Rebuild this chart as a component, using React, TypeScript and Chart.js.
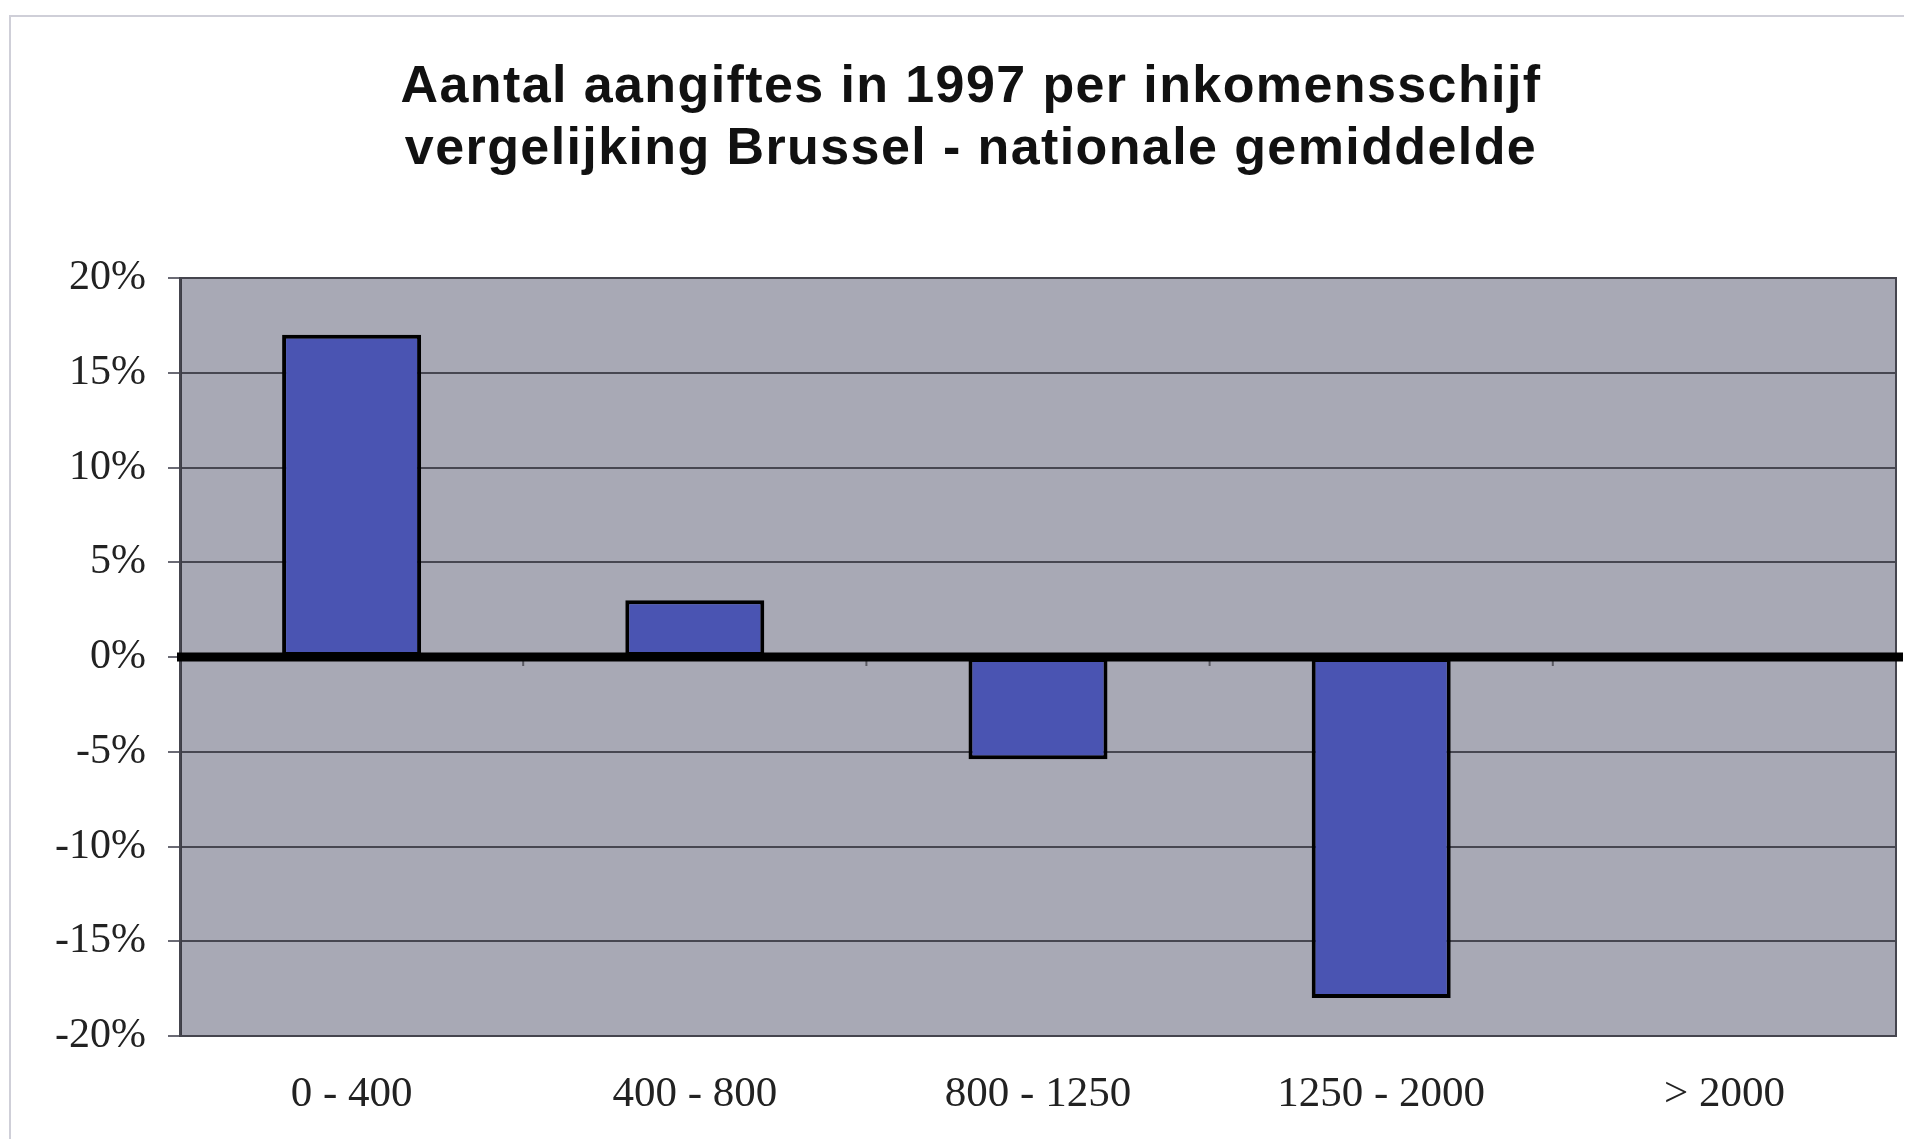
import React, { useEffect, useRef } from "react";
import { Chart, registerables } from "chart.js";

Chart.register(...registerables);

const titleLines = [
  "Aantal aangiftes in 1997 per inkomensschijf",
  "vergelijking Brussel - nationale gemiddelde",
];
const categories = ["0 - 400", "400 - 800", "800 - 1250", "1250 - 2000", "> 2000"];
const values: (number | null)[] = [17, 3, -5.4, -18, null];
const yMin = -20;
const yMax = 20;
const yStep = 5;

const decorPlugin = {
  id: "decor",
  beforeDraw(chart: any) {
    const { ctx, chartArea: a, width, height } = chart;
    ctx.save();
    ctx.fillStyle = "#ffffff";
    ctx.fillRect(0, 0, width, height);
    // outer frame (top + left)
    ctx.strokeStyle = "#cfcfd8";
    ctx.lineWidth = 2;
    ctx.beginPath();
    ctx.moveTo(2, height);
    ctx.lineTo(2, 8);
    ctx.lineTo(width, 8);
    ctx.stroke();
    // plot background
    ctx.fillStyle = "#a8a9b5";
    ctx.fillRect(a.left, a.top, a.right - a.left, a.bottom - a.top);
    // title
    ctx.fillStyle = "#111111";
    ctx.font = 'bold 52px "Liberation Sans", Arial, sans-serif';
    ctx.textAlign = "center";
    ctx.textBaseline = "alphabetic";
    (ctx as any).letterSpacing = "1.4px";
    const cx = 963;
    ctx.fillText(titleLines[0], cx, 94);
    ctx.fillText(titleLines[1], cx, 156);
    ctx.restore();
  },
  afterDatasetsDraw(chart: any) {
    const { ctx, chartArea: a, scales } = chart;
    const y0 = scales.y.getPixelForValue(0);
    ctx.save();
    ctx.strokeStyle = "#45454e";
    ctx.lineWidth = 2;
    ctx.strokeRect(a.left, a.top, a.right - a.left, a.bottom - a.top);
    // category boundary ticks on the zero axis
    ctx.strokeStyle = "#5a5a62";
    ctx.lineWidth = 2;
    for (let i = 0; i < categories.length - 1; i++) {
      const x = (scales.x.getPixelForValue(i) + scales.x.getPixelForValue(i + 1)) / 2;
      ctx.beginPath();
      ctx.moveTo(x, y0);
      ctx.lineTo(x, y0 + 9);
      ctx.stroke();
    }
    // thick zero line
    ctx.strokeStyle = "#000000";
    ctx.lineWidth = 9;
    ctx.beginPath();
    ctx.moveTo(a.left - 3, y0);
    ctx.lineTo(a.right + 7, y0);
    ctx.stroke();
    ctx.restore();
  },
};

export default function App() {
  const ref = useRef<HTMLCanvasElement | null>(null);

  useEffect(() => {
    if (!ref.current) return;
    const chart = new Chart(ref.current, {
      type: "bar",
      data: {
        labels: categories,
        datasets: [
          {
            data: values as any,
            backgroundColor: "#4a54b2",
            borderColor: "#000000",
            borderWidth: 4,
            borderSkipped: false,
            barPercentage: 0.405,
            categoryPercentage: 1.0,
          },
        ],
      },
      options: {
        animation: false,
        responsive: false,
        devicePixelRatio: 1,
        layout: { padding: { top: 270, left: 0, right: 8, bottom: 0 } },
        plugins: {
          legend: { display: false },
          title: { display: false },
          tooltip: { enabled: false },
        },
        scales: {
          x: {
            grid: { display: false, drawTicks: false },
            border: { display: false },
            ticks: {
              color: "#222222",
              font: { family: '"Liberation Serif", "Times New Roman", serif', size: 43 },
              padding: 33,
              maxRotation: 0,
            },
            afterFit(scale: any) {
              scale.height = 103;
            },
          },
          y: {
            min: yMin,
            max: yMax,
            ticks: {
              stepSize: yStep,
              callback: (v: any) => v + "%",
              color: "#222222",
              font: { family: '"Liberation Serif", "Times New Roman", serif', size: 42 },
              padding: 22,
            },
            grid: {
              color: "#474751",
              lineWidth: 2,
              tickLength: 12,
              tickColor: "#6a6a74",
            },
            border: { display: true, color: "#3d3d45", width: 3 },
            afterFit(scale: any) {
              scale.width = 172;
            },
          },
        },
      },
      plugins: [decorPlugin],
    });
    return () => chart.destroy();
  }, []);

  return (
    <canvas
      ref={ref}
      width={1896}
      height={1131}
      style={{ display: "block", width: 1896, height: 1131 }}
    />
  );
}
